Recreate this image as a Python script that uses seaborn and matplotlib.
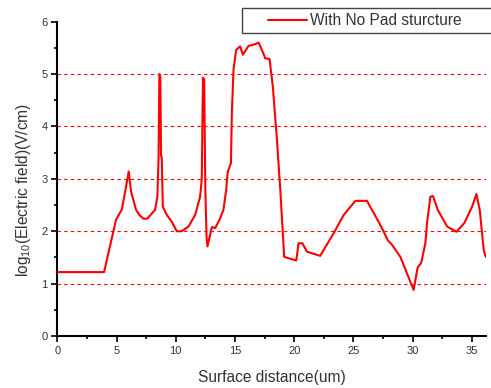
import matplotlib
matplotlib.use("Agg")
import matplotlib.pyplot as plt
from matplotlib.patches import Rectangle
import seaborn as sns
import pandas as pd

# ---- data ----
distance_um = [0, 3.95, 4.96, 5.44, 5.75, 6.03, 6.23, 6.65, 6.93, 7.27, 7.6, 8.26, 8.45,
               8.55, 8.62, 8.7, 8.76, 8.82, 8.91, 9.25, 9.67, 10.09, 10.5, 11.08, 11.64,
               12.06, 12.2, 12.3, 12.4, 12.5, 12.6, 12.68, 13.05, 13.33, 13.7, 14.03,
               14.26, 14.4, 14.66, 14.74, 14.88, 15.1, 15.44, 15.67, 16.15, 16.57, 17.0,
               17.28, 17.56, 17.92, 18.2, 18.55, 18.83, 19.16, 20.18, 20.37, 20.7, 21.08,
               22.2, 23.33, 24.18, 25.17, 26.15, 27.13, 27.5, 27.9, 28.27, 28.97, 30.09,
               30.43, 30.72, 31.08, 31.22, 31.5, 31.73, 32.12, 32.92, 33.7, 34.38, 35.03,
               35.39, 35.67, 36.01, 36.18]
log_field = [1.22, 1.22, 2.22, 2.41, 2.78, 3.14, 2.76, 2.41, 2.31, 2.24, 2.24, 2.41, 2.66,
             3.4, 5.0, 4.95, 3.45, 3.4, 2.47, 2.31, 2.18, 2.0, 2.0, 2.09, 2.31,
             2.66, 3.0, 4.93, 4.9, 2.8, 1.9, 1.71, 2.08, 2.06, 2.22, 2.41,
             2.79, 3.14, 3.3, 4.25, 5.08, 5.46, 5.53, 5.37, 5.54, 5.56, 5.6,
             5.46, 5.3, 5.29, 4.76, 3.74, 2.79, 1.51, 1.44, 1.77, 1.77, 1.61,
             1.53, 1.96, 2.31, 2.58, 2.58, 2.18, 2.02, 1.83, 1.74, 1.51, 0.88,
             1.31, 1.39, 1.77, 2.15, 2.66, 2.67, 2.41, 2.09, 1.99, 2.16, 2.47,
             2.71, 2.41, 1.64, 1.51]
series_label = "With No Pad sturcture"
x_ticks = [0, 5, 10, 15, 20, 25, 30, 35]
y_ticks = [0, 1, 2, 3, 4, 5, 6]
grid_levels = [1, 2, 3, 4, 5]

df = pd.DataFrame({"x": distance_um, "y": log_field})

sns.set_style("white")
plt.rcParams["font.family"] = ["Liberation Sans", "DejaVu Sans"]
plt.rcParams["mathtext.fontset"] = "custom"
plt.rcParams["mathtext.rm"] = "Liberation Sans"

W, H = 491, 388
fig = plt.figure(figsize=(W / 100, H / 100), dpi=100)
ax = fig.add_axes([57.3 / W, 52 / H, (486 - 57.3) / W, (336 - 21.7) / H])

for g in grid_levels:
    ax.axhline(g, color="#ff0000", lw=0.8, ls=(0, (3, 3)), zorder=1)

sns.lineplot(data=df, x="x", y="y", ax=ax, color="#ff0000", lw=1.5,
             sort=False, estimator=None, label=series_label, zorder=3)

ax.set_xlim(0, 36.2)
ax.set_ylim(0, 6)
ax.set_xticks(x_ticks)
ax.set_yticks(y_ticks)
ax.set_xticks([2.5 + 5 * i for i in range(7)], minor=True)
ax.set_yticks([0.5 + i for i in range(6)], minor=True)

for s in ["top", "right"]:
    ax.spines[s].set_visible(False)
for s in ["left", "bottom"]:
    ax.spines[s].set_color("black")
    ax.spines[s].set_linewidth(1.5)

ax.tick_params(which="major", direction="out", length=4, width=1.2,
               color="black", labelsize=8, labelcolor="#333333", pad=3,
               left=True, bottom=True)
ax.tick_params(which="minor", direction="out", length=2.5, width=1.2,
               color="black", left=True, bottom=True)

ax.set_xlabel("Surface distance(um)", fontsize=11.2, color="#333333", labelpad=10)
ax.set_ylabel(r"log$_{\mathregular{10}}$(Electric field)(V/cm)", fontsize=11.2,
              color="#333333")
ax.yaxis.set_label_coords(-0.057, 0.4645)

leg = ax.legend(loc="center left", bbox_to_anchor=(268 / W, 1 - 20.5 / H),
                bbox_transform=fig.transFigure, frameon=False,
                fontsize=11.2, handlelength=2.5, handletextpad=0.2,
                borderpad=0, borderaxespad=0)
for t in leg.get_texts():
    t.set_color("#333333")

box = Rectangle((241.7 / W, 1 - 32.7 / H), 0.6, 24.4 / H, transform=fig.transFigure,
                fill=False, edgecolor="#444444", lw=1.0)
fig.patches.append(box)

fig.savefig("out.png", dpi=100, facecolor="white")
